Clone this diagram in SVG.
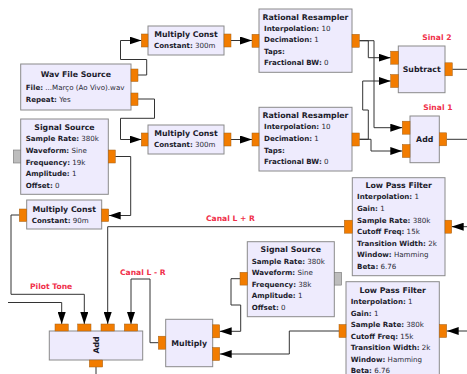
<svg xmlns="http://www.w3.org/2000/svg" width="467" height="374" viewBox="0 0 467 374">
<defs>
<marker id="arr" markerUnits="userSpaceOnUse" markerWidth="12" markerHeight="8" refX="12" refY="4" orient="auto">
<path d="M0,0 L12,4 L0,8 z" fill="#000"/>
</marker>
</defs>
<style>
.box{fill:#EEEBFD;stroke:#8a8a8a;stroke-width:1}
.port{fill:#F27C00;stroke:#a0601a;stroke-width:0.5}
.gport{fill:#BDBDBD;stroke:#777;stroke-width:0.6}
text{font-family:"DejaVu Sans",sans-serif;font-size:7.1px;fill:#2a2a36}
.t{font-weight:bold;text-anchor:middle;font-size:7.8px;fill:#1c1c2c}
.b{font-weight:bold;fill:#1c1c2c}
.lbl{font-size:7.6px;font-weight:bold;fill:#F0304A}
.c{fill:none;stroke:#333;stroke-width:1;marker-end:url(#arr)}
.cn{fill:none;stroke:#333;stroke-width:1}
</style>
<rect width="467" height="374" fill="#fff"/>

<g id="connectors">
<path class="c" d="M138,75 H146.7 V59.5 H120.5 V40.5 H141.5"/>
<path class="c" d="M138,99 H154.5 V118.3 H120.5 V139.5 H141.5"/>
<path class="c" d="M231,40.5 H252"/>
<path class="c" d="M231,139.5 H252"/>
<path class="c" d="M359.3,40.7 H368.3 V57.7 H390.7"/>
<path class="c" d="M359.3,40.7 H374 V127.7 H402.3"/>
<path class="c" d="M359.3,139.3 H368.3 V110 H362.7 V81 H390.7"/>
<path class="c" d="M359.3,139.3 H371 V151 H402.3"/>
<path class="cn" d="M452.3,69.3 H467"/>
<path class="cn" d="M446.7,139.3 H467"/>
<path class="c" d="M115.3,156.5 H130.7 V215.5 H108.7"/>
<path class="c" d="M19.3,215 H11 V294.3 H84.3 V324"/>
<path class="c" d="M8,302.5 H61.7 V324"/>
<path class="c" d="M344.3,226.7 H107.7 V324"/>
<path class="c" d="M158.3,342.7 H150 V279 H131 V324"/>
<path class="c" d="M240,278.7 H231 V305 H240.7 V331.3 H219.7"/>
<path class="c" d="M339,331 H289.3 V354 H219.7"/>
<path class="c" d="M467,226.7 H451.7"/>
<path class="c" d="M467,331 H446.7"/>
<path class="cn" d="M96,367 V374"/>
</g>

<g id="labels">
<text class="lbl" x="422.3" y="40.3">Sinal 2</text>
<text class="lbl" x="423.3" y="109.8">Sinal 1</text>
<text class="lbl" x="206" y="220.8">Canal L + R</text>
<text class="lbl" x="120" y="274.8">Canal L - R</text>
<text class="lbl" x="30" y="289.3">Pilot Tone</text>
</g>

<g id="mc1">
<rect class="box" x="148" y="26" width="76" height="29"/>
<rect class="port" x="141.3" y="34" width="6.7" height="13"/>
<rect class="port" x="224" y="34" width="7" height="13"/>
<text class="t" x="186" y="37.3">Multiply Const</text>
<text x="154" y="47.6"><tspan class="b">Constant:</tspan> 300m</text>
</g>

<g id="mc2">
<rect class="box" x="148" y="125" width="76" height="29"/>
<rect class="port" x="141.3" y="133" width="6.7" height="13"/>
<rect class="port" x="224" y="133" width="7" height="13"/>
<text class="t" x="186" y="135.8">Multiply Const</text>
<text x="154" y="146.9"><tspan class="b">Constant:</tspan> 300m</text>
</g>

<g id="wav">
<rect class="box" x="20.7" y="64" width="110.3" height="46"/>
<rect class="port" x="131" y="69" width="7" height="12.5"/>
<rect class="port" x="131" y="93" width="7" height="12.5"/>
<text class="t" x="75.8" y="76.8">Wav File Source</text>
<text x="25.7" y="89.6"><tspan class="b">File:</tspan> ...Março (Ao Vivo).wav</text>
<text x="25.7" y="101.6"><tspan class="b">Repeat:</tspan> Yes</text>
</g>

<g id="ss19">
<rect class="box" x="20.7" y="119" width="87.6" height="75.3"/>
<rect class="gport" x="13.3" y="150" width="7.4" height="13"/>
<rect class="port" x="108.3" y="150" width="7" height="13"/>
<text class="t" x="64.5" y="130.1">Signal Source</text>
<text x="25.7" y="141.3"><tspan class="b">Sample Rate:</tspan> 380k</text>
<text x="25.7" y="152.9"><tspan class="b">Waveform:</tspan> Sine</text>
<text x="25.7" y="164.6"><tspan class="b">Frequency:</tspan> 19k</text>
<text x="25.7" y="175.9"><tspan class="b">Amplitude:</tspan> 1</text>
<text x="25.7" y="187.6"><tspan class="b">Offset:</tspan> 0</text>
</g>

<g id="mc90">
<rect class="box" x="26.7" y="200" width="75" height="29"/>
<rect class="port" x="19.3" y="209" width="7.4" height="12.5"/>
<rect class="port" x="101.7" y="209" width="7" height="12.5"/>
<text class="t" x="64.2" y="211.5">Multiply Const</text>
<text x="31.7" y="222.6"><tspan class="b">Constant:</tspan> 90m</text>
</g>

<g id="rr1">
<rect class="box" x="259" y="9" width="93" height="63.3"/>
<rect class="port" x="252" y="34.3" width="7" height="13"/>
<rect class="port" x="352" y="34.3" width="7.3" height="13"/>
<text class="t" x="305.5" y="19.5">Rational Resampler</text>
<text x="264" y="30.6"><tspan class="b">Interpolation:</tspan> 10</text>
<text x="264" y="42.3"><tspan class="b">Decimation:</tspan> 1</text>
<text x="264" y="53.9"><tspan class="b">Taps:</tspan></text>
<text x="264" y="65.3"><tspan class="b">Fractional BW:</tspan> 0</text>
</g>

<g id="rr2">
<rect class="box" x="259" y="107.3" width="93" height="63.7"/>
<rect class="port" x="252" y="133" width="7" height="13"/>
<rect class="port" x="352" y="133" width="7.3" height="13"/>
<text class="t" x="305.5" y="117.8">Rational Resampler</text>
<text x="264" y="129.3"><tspan class="b">Interpolation:</tspan> 10</text>
<text x="264" y="141.3"><tspan class="b">Decimation:</tspan> 1</text>
<text x="264" y="152.9"><tspan class="b">Taps:</tspan></text>
<text x="264" y="164.3"><tspan class="b">Fractional BW:</tspan> 0</text>
</g>

<g id="subtract">
<rect class="box" x="398.3" y="46" width="46.7" height="46.7"/>
<rect class="port" x="390.7" y="51.2" width="7.6" height="13"/>
<rect class="port" x="390.7" y="74.5" width="7.6" height="13"/>
<rect class="port" x="445" y="62.8" width="7.3" height="13"/>
<text class="t" x="421.7" y="72">Subtract</text>
</g>

<g id="add1">
<rect class="box" x="410" y="116" width="29.3" height="46.7"/>
<rect class="port" x="402.3" y="121.2" width="7.7" height="13"/>
<rect class="port" x="402.3" y="144.5" width="7.7" height="13"/>
<rect class="port" x="439.3" y="132.8" width="7.4" height="13"/>
<text class="t" x="424.7" y="142">Add</text>
</g>

<g id="lpf1">
<rect class="box" x="352.3" y="177.7" width="92.7" height="98"/>
<rect class="port" x="344.3" y="220.2" width="8" height="13"/>
<rect class="port" x="445" y="220.2" width="6.7" height="13"/>
<text class="t" x="398.7" y="187.8">Low Pass Filter</text>
<text x="357" y="199.3"><tspan class="b">Interpolation:</tspan> 1</text>
<text x="357" y="210.9"><tspan class="b">Gain:</tspan> 1</text>
<text x="357" y="222.6"><tspan class="b">Sample Rate:</tspan> 380k</text>
<text x="357" y="234.3"><tspan class="b">Cutoff Freq:</tspan> 15k</text>
<text x="357" y="245.9"><tspan class="b">Transition Width:</tspan> 2k</text>
<text x="357" y="257.3"><tspan class="b">Window:</tspan> Hamming</text>
<text x="357" y="268.6"><tspan class="b">Beta:</tspan> 6.76</text>
</g>

<g id="ss38">
<rect class="box" x="247.3" y="241.7" width="87" height="75"/>
<rect class="port" x="240" y="272.3" width="7.3" height="12.8"/>
<rect class="gport" x="334.3" y="272.3" width="7.4" height="12.8"/>
<text class="t" x="290.8" y="251.8">Signal Source</text>
<text x="251.7" y="263.6"><tspan class="b">Sample Rate:</tspan> 380k</text>
<text x="251.7" y="274.9"><tspan class="b">Waveform:</tspan> Sine</text>
<text x="251.7" y="286.6"><tspan class="b">Frequency:</tspan> 38k</text>
<text x="251.7" y="298.3"><tspan class="b">Amplitude:</tspan> 1</text>
<text x="251.7" y="309.6"><tspan class="b">Offset:</tspan> 0</text>
</g>

<g id="lpf2">
<rect class="box" x="346" y="281.7" width="93.3" height="98"/>
<rect class="port" x="339" y="324.5" width="7" height="13"/>
<rect class="port" x="439.3" y="324.5" width="7.4" height="13"/>
<text class="t" x="392.7" y="292.8">Low Pass Filter</text>
<text x="350.7" y="303.9"><tspan class="b">Interpolation:</tspan> 1</text>
<text x="350.7" y="315.6"><tspan class="b">Gain:</tspan> 1</text>
<text x="350.7" y="327.3"><tspan class="b">Sample Rate:</tspan> 380k</text>
<text x="350.7" y="338.6"><tspan class="b">Cutoff Freq:</tspan> 15k</text>
<text x="350.7" y="350.3"><tspan class="b">Transition Width:</tspan> 2k</text>
<text x="350.7" y="361.9"><tspan class="b">Window:</tspan> Hamming</text>
<text x="350.7" y="373.3"><tspan class="b">Beta:</tspan> 6.76</text>
</g>

<g id="multiply">
<rect class="box" x="165.7" y="319.3" width="47" height="47.4"/>
<rect class="port" x="158.3" y="336.2" width="7.4" height="13"/>
<rect class="port" x="212.7" y="324.8" width="7" height="13"/>
<rect class="port" x="212.7" y="347.5" width="7" height="13"/>
<text class="t" x="189.2" y="345.8">Multiply</text>
</g>

<g id="add2">
<rect class="box" x="49.3" y="331" width="93.4" height="29"/>
<rect class="port" x="55" y="324" width="13.3" height="7"/>
<rect class="port" x="77.7" y="324" width="13.3" height="7"/>
<rect class="port" x="101" y="324" width="13.3" height="7"/>
<rect class="port" x="124.3" y="324" width="13.4" height="7"/>
<rect class="port" x="89.3" y="360" width="13.4" height="7"/>
<text class="t" x="0" y="0" transform="translate(98.8,345) rotate(-90)">Add</text>
</g>
</svg>
